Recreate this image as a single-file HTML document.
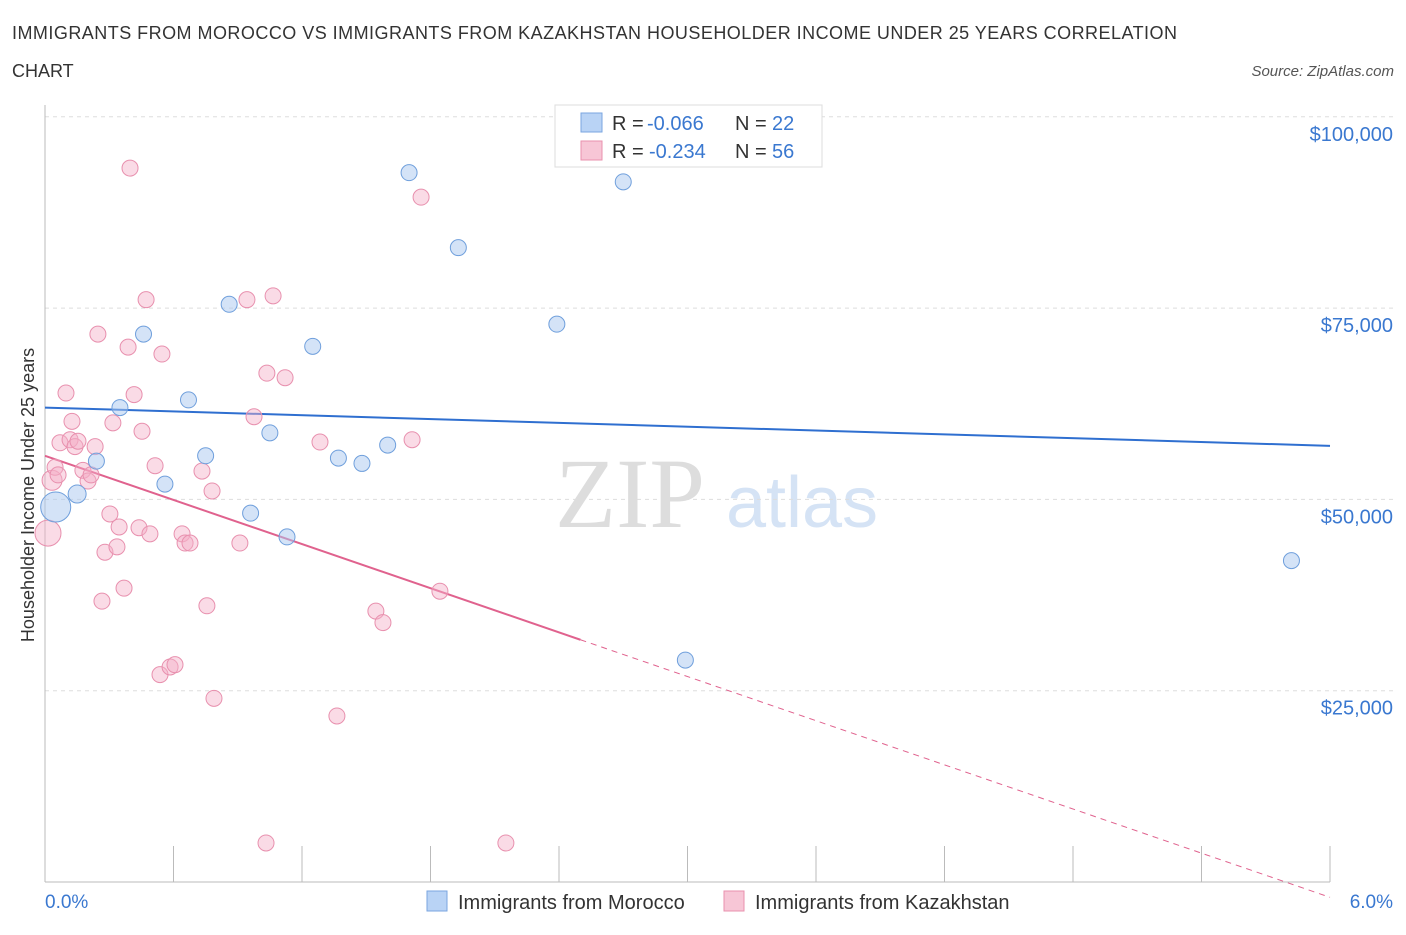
<!DOCTYPE html>
<html><head><meta charset="utf-8"><style>
body{margin:0;background:#fff;font-family:"Liberation Sans",sans-serif;}
</style></head><body>
<svg id="chart" width="1406" height="930" xmlns="http://www.w3.org/2000/svg">
<text x="12" y="39" font-size="18" fill="#333" textLength="1165">IMMIGRANTS FROM MOROCCO VS IMMIGRANTS FROM KAZAKHSTAN HOUSEHOLDER INCOME UNDER 25 YEARS CORRELATION</text>
<text x="12" y="77" font-size="18" fill="#333">CHART</text>
<text x="1394" y="76" font-size="15" fill="#555" font-style="italic" text-anchor="end">Source: ZipAtlas.com</text>
<text x="630" y="527" font-size="100" fill="#ddd" font-family="Liberation Serif,serif" text-anchor="middle">ZIP</text>
<text x="802" y="527" font-size="72" fill="#d5e3f5" text-anchor="middle">atlas</text>
<g id="grid"></g><g id="axes"></g><g id="trend"></g><g id="pts"></g>
<text transform="translate(34,495) rotate(-90)" font-size="18" fill="#333" text-anchor="middle">Householder Income Under 25 years</text>
<text x="45" y="908" font-size="19" fill="#3a78d0">0.0%</text>
<text x="1393" y="908" font-size="19" fill="#3a78d0" text-anchor="end">6.0%</text>
<g>
<rect x="555" y="105" width="267" height="62" fill="#fff" stroke="#ddd"/>
<rect x="581" y="113" width="21" height="19" fill="#b9d3f5" stroke="#7aa6e0"/>
<text x="612" y="130" font-size="20" fill="#333">R =</text>
<text x="647" y="130" font-size="20" fill="#3a78d0">-0.066</text>
<text x="735" y="130" font-size="20" fill="#333">N =</text>
<text x="772" y="130" font-size="20" fill="#3a78d0">22</text>
<rect x="581" y="141" width="21" height="19" fill="#f7c6d6" stroke="#e890ae"/>
<text x="612" y="158" font-size="20" fill="#333">R =</text>
<text x="649" y="158" font-size="20" fill="#3a78d0">-0.234</text>
<text x="735" y="158" font-size="20" fill="#333">N =</text>
<text x="772" y="158" font-size="20" fill="#3a78d0">56</text>
</g>
<g>
<rect x="427" y="891" width="20" height="20" fill="#b9d3f5" stroke="#7aa6e0"/>
<text x="458" y="909" font-size="20" fill="#333">Immigrants from Morocco</text>
<rect x="724" y="891" width="20" height="20" fill="#f7c6d6" stroke="#e890ae"/>
<text x="755" y="909" font-size="20" fill="#333">Immigrants from Kazakhstan</text>
</g>
</svg>
<script>
const yTicks=[25000,50000,75000,100000];
const yTickLabels=["$25,000","$50,000","$75,000","$100,000"];
const xTicks=[0,0.6,1.2,1.8,2.4,3.0,3.6,4.2,4.8,5.4,6.0];
const moroccoX=[0.05,0.15,0.24,0.35,0.46,0.56,0.67,0.75,0.86,0.96,1.05,1.13,1.25,1.37,1.48,1.60,1.70,1.93,2.39,2.70,2.99,5.82];
const moroccoY=[49000,50700,55000,62000,71600,52000,63000,55700,75500,48200,58700,45100,70000,55400,54700,57100,92700,82900,72900,91500,29000,42000];
const moroccoR=[15,9,8,8,8,8,8,8,8,8,8,8,8,8,8,8,8,8,8,8,8,8];
const kazX=[0.014,0.033,0.047,0.061,0.070,0.098,0.117,0.126,0.140,0.154,0.177,0.201,0.215,0.234,0.247,0.266,0.280,0.303,0.317,0.336,0.346,0.369,0.388,0.397,0.416,0.439,0.453,0.472,0.490,0.514,0.537,0.546,0.584,0.607,0.640,0.654,0.677,0.733,0.756,0.780,0.789,0.910,0.943,0.976,1.032,1.036,1.065,1.121,1.284,1.363,1.545,1.578,1.714,1.756,1.844,2.152];
const kazY=[45600,52500,54200,53200,57400,63900,57800,60200,56900,57600,53800,52400,53200,56900,71600,36700,43100,48100,60000,43800,46400,38400,69900,93300,63700,46300,58900,76100,45500,54400,27100,69000,28100,28400,45500,44300,44300,53700,36100,51100,24000,44300,76100,60800,5100,66500,76600,65900,57500,21700,35400,33900,57800,89500,38000,5100];
const kazR=[13,10,8,8,8,8,8,8,8,8,8,8,8,8,8,8,8,8,8,8,8,8,8,8,8,8,8,8,8,8,8,8,8,8,8,8,8,8,8,8,8,8,8,8,8,8,8,8,8,8,8,8,8,8,8,8];
const moroccoTrend=[62000,57000];
const kazTrend=[55700,-2000];
const kazSolidEnd=2.5;
const NS="http://www.w3.org/2000/svg";
const X0=45,X1=1330,Y0=882;
const xs=v=>X0+v/6*(X1-X0);
const ys=v=>Y0-v/25000*191.3;
function mk(t,a,p){const e=document.createElementNS(NS,t);for(const k in a)e.setAttribute(k,a[k]);document.getElementById(p).appendChild(e);return e;}
yTicks.forEach((v,i)=>{
 const g=mk("line",{x1:X0,x2:1395,y1:ys(v),y2:ys(v),stroke:"#ddd","stroke-dasharray":"4,4"},"grid");
 
 
 const t=mk("text",{x:1393,y:ys(v)+24,"font-size":20,fill:"#3a78d0","text-anchor":"end"},"axes");
 t.textContent=yTickLabels[i];
 
 
});
const xl=mk("line",{x1:X0,x2:X1,y1:Y0,y2:Y0,stroke:"#bbb"},"axes");


const yl=mk("line",{x1:X0,x2:X0,y1:105,y2:Y0,stroke:"#bbb"},"axes");


xTicks.forEach(v=>{
 const t=mk("line",{x1:xs(v),x2:xs(v),y1:Y0,y2:Y0-36,stroke:"#bbb"},"axes");
 
 
});
const lerp=(tr,x)=>tr[0]+(tr[1]-tr[0])*x/6;
const bt=mk("line",{x1:xs(0),y1:ys(lerp(moroccoTrend,0)),x2:xs(6),y2:ys(lerp(moroccoTrend,6)),stroke:"#2f6fd0","stroke-width":2},"trend");


const pt=mk("line",{x1:xs(0),y1:ys(lerp(kazTrend,0)),x2:xs(kazSolidEnd),y2:ys(lerp(kazTrend,kazSolidEnd)),stroke:"#e0628e","stroke-width":2},"trend");


const pd=mk("line",{x1:xs(kazSolidEnd),y1:ys(lerp(kazTrend,kazSolidEnd)),x2:xs(6),y2:ys(lerp(kazTrend,6)),stroke:"#e0628e","stroke-width":1,"stroke-dasharray":"6,5"},"trend");


kazX.forEach((v,i)=>{
 const c=mk("circle",{cx:xs(v),cy:ys(kazY[i]),r:kazR[i],fill:"rgba(244,176,200,0.45)",stroke:"#e890ae","stroke-width":1},"pts");
 
 
});
moroccoX.forEach((v,i)=>{
 const c=mk("circle",{cx:xs(v),cy:ys(moroccoY[i]),r:moroccoR[i],fill:"rgba(169,200,240,0.5)",stroke:"#6f9fdc","stroke-width":1},"pts");
 
 
});
</script>
</body></html>
